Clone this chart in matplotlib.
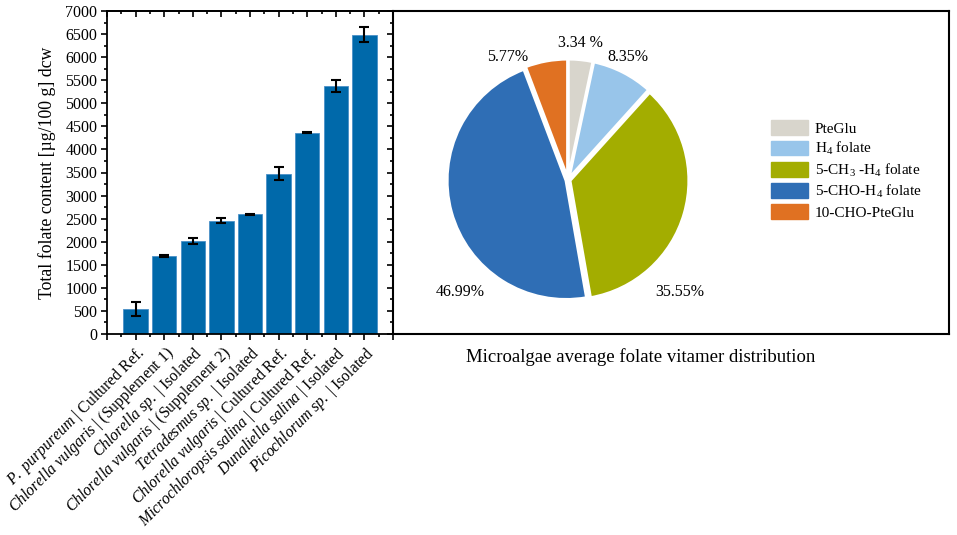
import matplotlib
matplotlib.use("Agg")
import matplotlib.pyplot as plt
from matplotlib.patches import Patch
import numpy as np

plt.rcParams['font.family'] = ['Liberation Serif', 'DejaVu Serif']
plt.rcParams['mathtext.fontset'] = 'custom'
plt.rcParams['mathtext.rm'] = 'Liberation Serif'
plt.rcParams['mathtext.it'] = 'Liberation Serif:italic'

# bar chart data
species = ["P. purpureum", "Chlorella vulgaris", "Chlorella sp.", "Chlorella vulgaris",
           "Tetradesmus sp.", "Chlorella vulgaris", "Microchloropsis salina",
           "Dunaliella salina", "Picochlorum sp."]
source = ["Cultured Ref.", "(Supplement 1)", "Isolated", "(Supplement 2)", "Isolated",
          "Cultured Ref.", "Cultured Ref.", "Isolated", "Isolated"]
folate = [545, 1695, 2005, 2455, 2595, 3470, 4365, 5380, 6490]
folate_err = [150, 20, 65, 55, 15, 140, 10, 130, 160]

# pie chart data
vitamers = ["PteGlu", "H$_4$ folate", "5-CH$_3$ -H$_4$ folate", "5-CHO-H$_4$ folate", "10-CHO-PteGlu"]
shares = [3.34, 8.35, 35.55, 46.99, 5.77]
share_labels = ["3.34 %", "8.35%", "35.55%", "46.99%", "5.77%"]
pie_colors = ["#D8D5CC", "#98C5EA", "#A3AD00", "#2F6EB5", "#E07122"]

W, H = 957, 535
fig = plt.figure(figsize=(W / 100, H / 100), dpi=100)

def fx(px):
    return px / W

def fy(py):
    return 1 - py / H

# ---- left: bar chart
ax = fig.add_axes([fx(107), fy(334), fx(393 - 107), fy(11) - fy(334)])
x = np.arange(len(folate))
ax.bar(x, folate, width=0.86, color="#0069AA", edgecolor="#4a90c8", linewidth=0.6, zorder=2)
ax.errorbar(x, folate, yerr=folate_err, fmt="none", ecolor="black", elinewidth=1.5,
            capsize=3.5, capthick=1.5, zorder=3)
ax.set_xlim(-1, 9)
ax.set_ylim(0, 7000)
ax.set_yticks(np.arange(0, 7001, 500))
ax.set_yticks(np.arange(0, 7001, 250), minor=True)
ax.set_xticks(np.arange(-1, 10))
ax.set_xticks(np.arange(-0.5, 9.5, 1), minor=True)

def tick_label(sp, src):
    return r"$\mathit{" + sp.replace(" ", r"\ ") + "}$ | " + src

labels = [""] + [tick_label(s, r) for s, r in zip(species, source)] + [""]
ax.set_xticklabels(labels, rotation=45, ha="right", va="top", rotation_mode="anchor",
                   fontsize=11.3)
ax.tick_params(axis="both", which="major", direction="out", length=4, width=1.2)
ax.tick_params(axis="both", which="minor", direction="out", length=2.5, width=1.2)
ax.tick_params(axis="x", which="major", pad=3)
ax.tick_params(axis="y", labelsize=11.5, pad=3)
ax.set_ylabel("Total folate content [µg/100 g] dcw", fontsize=12.8, labelpad=7)
for s in ax.spines.values():
    s.set_linewidth(1.3)

# top and right ticks pointing inward
top = ax.secondary_xaxis("top")
top.set_xticks(np.arange(-1, 10))
top.set_xticks(np.arange(-0.5, 9.5, 1), minor=True)
top.tick_params(which="major", direction="in", length=4, width=1.2, labeltop=False)
top.tick_params(which="minor", direction="in", length=2.5, width=1.2)
top.spines["top"].set_linewidth(1.3)
right = ax.secondary_yaxis("right")
right.set_yticks(np.arange(0, 7001, 500))
right.set_yticks(np.arange(0, 7001, 250), minor=True)
right.tick_params(which="major", direction="in", length=4, width=1.2, labelright=False)
right.tick_params(which="minor", direction="in", length=2.5, width=1.2)
right.spines["right"].set_linewidth(1.3)

# ---- right: pie chart in framed box
bw, bh = 949 - 393, 334 - 11
pax = fig.add_axes([fx(393), fy(334), fx(bw), fy(11) - fy(334)])
cx, cy, r = 568 - 393, 334 - 180, 119
pax.pie(shares, colors=pie_colors, startangle=90, counterclock=False,
        center=(cx, cy), radius=r, frame=True, explode=[2, 2, 2, 2, 2],
        wedgeprops=dict(edgecolor="white", linewidth=2.2))
pax.set_xlim(0, bw)
pax.set_ylim(0, bh)
pax.set_aspect("equal")
pax.set_xticks([])
pax.set_yticks([])
for s in pax.spines.values():
    s.set_linewidth(1.5)

label_pos = [(580, 43), (628, 57), (680, 292), (460, 292), (508, 57)]
for txt, (px, py) in zip(share_labels, label_pos):
    pax.text(px - 393, 334 - py, txt, ha="center", va="center", fontsize=11.5)

handles = [Patch(facecolor=c, edgecolor=c) for c in pie_colors]
fig.legend(handles, vitamers, loc="center left", bbox_to_anchor=(fx(771), fy(170)),
           frameon=False, fontsize=11, handlelength=2.4, handleheight=1.1,
           labelspacing=0.28, handletextpad=0.45, borderpad=0, borderaxespad=0)

fig.text(fx(641), fy(357), "Microalgae average folate vitamer distribution",
         ha="center", va="center", fontsize=13.5)

fig.savefig("out.png", dpi=100)
